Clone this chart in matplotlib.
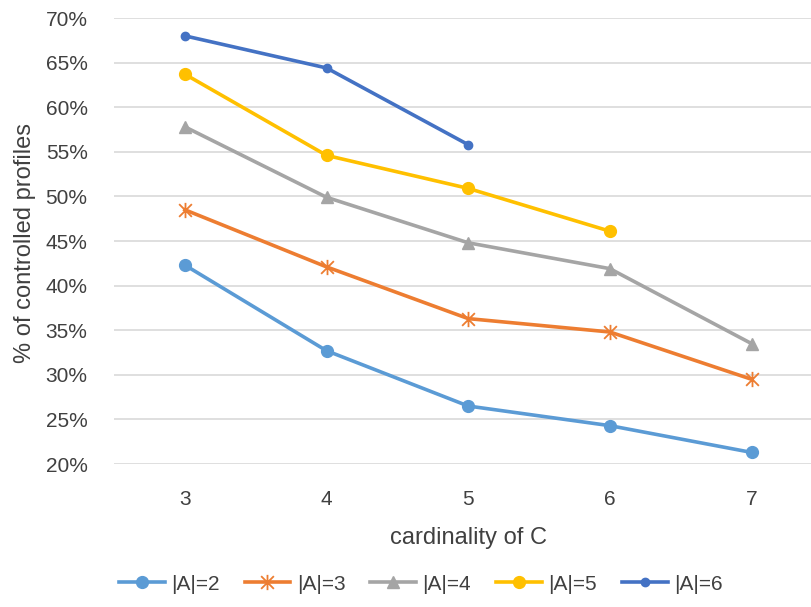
import matplotlib.pyplot as plt
from matplotlib.path import Path
from matplotlib.ticker import PercentFormatter

plt.rcParams['font.family'] = ['Liberation Sans Narrow', 'Liberation Sans', 'DejaVu Sans']

card_c = [3, 4, 5, 6, 7]
a2 = [42.3, 32.7, 26.5, 24.3, 21.3]
a3 = [48.5, 42.1, 36.3, 34.8, 29.5]
a4 = [57.8, 49.9, 44.8, 41.9, 33.5]
a5 = [63.7, 54.6, 50.9, 46.1]
a6 = [68.0, 64.4, 55.8]

# excel style star: an X with a vertical bar through it
star = Path([(-1, -1), (1, 1), (-1, 1), (1, -1), (0, -1.2), (0, 1.2)],
            [Path.MOVETO, Path.LINETO, Path.MOVETO, Path.LINETO, Path.MOVETO, Path.LINETO])

fig = plt.figure(figsize=(8.11, 6.07), dpi=100)
ax = fig.add_axes([114/811, 1-464/607, 1-114/811, (464-18)/607])

ax.plot(card_c, a2, color='#5B9BD5', lw=2.6, marker='o', ms=8.5, label='|A|=2')
ax.plot(card_c, a3, color='#ED7D31', lw=2.6, marker=star, ms=11, mew=1.3,
        mfc='none', label='|A|=3')
ax.plot(card_c, a4, color='#A5A5A5', lw=2.6, marker='^', ms=9, label='|A|=4')
ax.plot(card_c[:4], a5, color='#FFC000', lw=2.6, marker='o', ms=8.5, label='|A|=5')
ax.plot(card_c[:3], a6, color='#4472C4', lw=2.6, marker='o', ms=6, label='|A|=6')

ax.set_xlim(2.5, 7.42)
ax.set_ylim(20, 70)
ax.set_xticks(card_c)
ax.set_yticks(range(20, 71, 5))
ax.yaxis.set_major_formatter(PercentFormatter(decimals=0))
ax.grid(axis='y', color='#D9D9D9', lw=1.2)
ax.set_axisbelow(True)
for s in ax.spines.values():
    s.set_visible(False)
ax.tick_params(length=0, labelsize=15, colors='#404040')
ax.tick_params(axis='y', pad=19)
ax.tick_params(axis='x', pad=19)

ax.set_xlabel('cardinality of C', fontsize=17, color='#404040')
ax.set_ylabel('% of controlled profiles', fontsize=17, color='#404040')
ax.xaxis.set_label_coords(0.508, -0.142)
ax.yaxis.set_label_coords(-0.112, 0.495)

ax.legend(loc='upper center', bbox_to_anchor=(0.44, -0.206), ncol=5, frameon=False,
          fontsize=15, labelcolor='#404040', handlelength=2.2, columnspacing=1.2,
          handletextpad=0.3)

fig.savefig('out.png', dpi=100)
